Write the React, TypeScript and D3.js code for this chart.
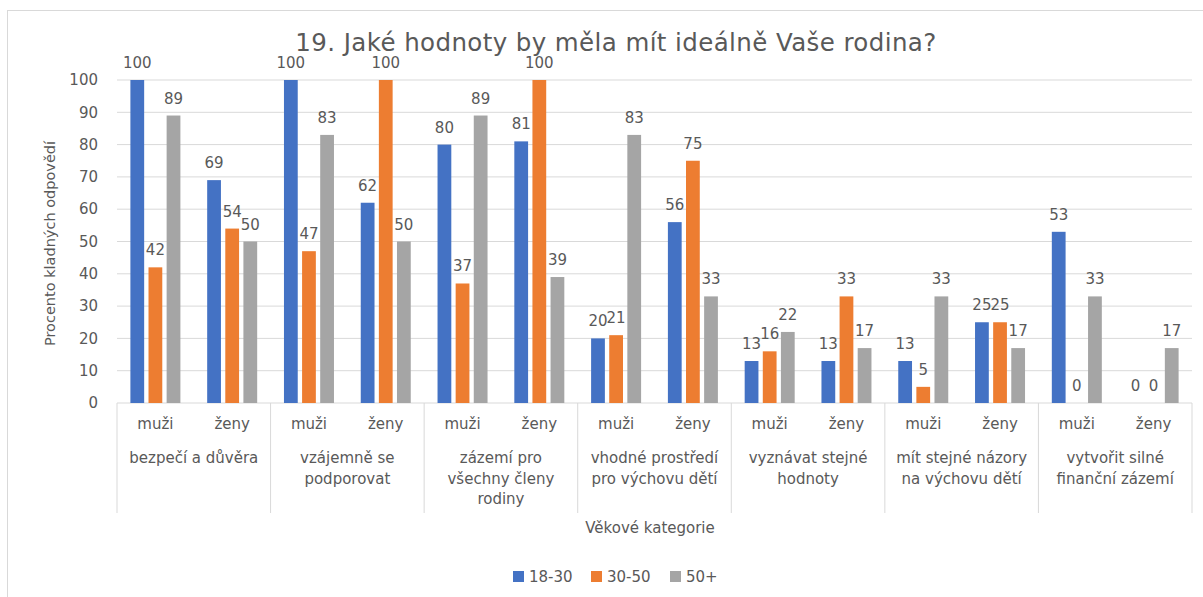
import React from 'react';
import * as d3 from 'd3';

const groups = [
  ['bezpečí a důvěra'],
  ['vzájemně se', 'podporovat'],
  ['zázemí pro', 'všechny členy', 'rodiny'],
  ['vhodné prostředí', 'pro výchovu dětí'],
  ['vyznávat stejné', 'hodnoty'],
  ['mít stejné názory', 'na výchovu dětí'],
  ['vytvořit silné', 'finanční zázemí'],
];
const genders = ['muži', 'ženy'];
const seriesNames = ['18-30', '30-50', '50+'];
const colors = ['#4472C4', '#ED7D31', '#A5A5A5'];

// values per group: [muži, ženy], each [18-30, 30-50, 50+]
const values = [
  [[100, 42, 89], [69, 54, 50]],
  [[100, 47, 83], [62, 100, 50]],
  [[80, 37, 89], [81, 100, 39]],
  [[20, 21, 83], [56, 75, 33]],
  [[13, 16, 22], [13, 33, 17]],
  [[13, 5, 33], [25, 25, 17]],
  [[53, 0, 33], [0, 0, 17]],
];
const yTicks = [0, 10, 20, 30, 40, 50, 60, 70, 80, 90, 100];

const W = 1203;
const H = 597;
const left = 117;
const right = 1192;
const top = 80;
const bottom = 403;
const font = '"DejaVu Sans", sans-serif';
const textColor = '#595959';

const App = () => {
  const x0 = d3.scaleBand<number>().domain(d3.range(groups.length)).range([left, right]);
  const x1 = d3.scaleBand<number>().domain([0, 1]).range([0, x0.bandwidth()]);
  const x2 = d3
    .scaleBand<number>()
    .domain([0, 1, 2])
    .range([x1.bandwidth() / 2 - 25, x1.bandwidth() / 2 + 25])
    .paddingInner(0.24);
  const y = d3.scaleLinear().domain([0, 100]).range([bottom, top]);

  return (
    <svg width={W} height={H} style={{ position: 'absolute', left: 0, top: 0, background: '#fff' }}>
      <rect x={7.5} y={10.5} width={1300} height={700} fill="#fff" stroke="#d9d9d9" />
      <text
        x={616}
        y={51}
        textAnchor="middle"
        fontFamily={font}
        fontSize={24.5}
        letterSpacing={0.4}
        fill={textColor}
      >
        19. Jaké hodnoty by měla mít ideálně Vaše rodina?
      </text>

      {yTicks.map((t) => (
        <g key={t}>
          <line x1={left} x2={right} y1={y(t)} y2={y(t)} stroke="#d9d9d9" strokeWidth={1} />
          <text x={98} y={y(t)} dy="0.35em" textAnchor="end" fontFamily={font} fontSize={15} fill={textColor}>
            {t}
          </text>
        </g>
      ))}

      {/* category axis dividers */}
      {d3.range(groups.length + 1).map((i) => {
        const xx = i < groups.length ? x0(i)! : right;
        return <line key={i} x1={xx} x2={xx} y1={bottom} y2={513} stroke="#d9d9d9" />;
      })}

      {values.map((g, gi) =>
        g.map((s, si) =>
          s.map((v, k) => {
            const bx = x0(gi)! + x1(si)! + x2(k)!;
            return (
              <g key={`${gi}-${si}-${k}`}>
                <rect x={bx} y={y(v)} width={x2.bandwidth()} height={bottom - y(v)} fill={colors[k]} />
                <text
                  x={bx + x2.bandwidth() / 2}
                  y={y(v) - 12}
                  textAnchor="middle"
                  fontFamily={font}
                  fontSize={15}
                  fill={textColor}
                >
                  {v}
                </text>
              </g>
            );
          })
        )
      )}

      {groups.map((lines, gi) => (
        <g key={gi}>
          {genders.map((gname, si) => (
            <text
              key={si}
              x={x0(gi)! + x1(si)! + x1.bandwidth() / 2}
              y={424}
              dy="0.35em"
              textAnchor="middle"
              fontFamily={font}
              fontSize={15}
              fill={textColor}
            >
              {gname}
            </text>
          ))}
          {lines.map((ln, li) => (
            <text
              key={li}
              x={x0(gi)! + x0.bandwidth() / 2}
              y={458 + li * 20.5}
              dy="0.35em"
              textAnchor="middle"
              fontFamily={font}
              fontSize={15}
              fill={textColor}
            >
              {ln}
            </text>
          ))}
        </g>
      ))}

      <text x={650} y={528} dy="0.35em" textAnchor="middle" fontFamily={font} fontSize={15} fill={textColor}>
        Věkové kategorie
      </text>
      <text
        transform={`translate(50, ${(top + bottom) / 2 + 2}) rotate(-90)`}
        textAnchor="middle"
        dy="0.35em"
        fontFamily={font}
        fontSize={14.5}
        fill={textColor}
      >
        Procento kladných odpovědí
      </text>

      {seriesNames.map((n, i) => {
        const lx = [513, 591, 670][i];
        return (
          <g key={n}>
            <rect x={lx} y={571} width={11} height={11} fill={colors[i]} />
            <text x={lx + 16} y={576.5} dy="0.35em" fontFamily={font} fontSize={15} fill={textColor}>
              {n}
            </text>
          </g>
        );
      })}
    </svg>
  );
};

export default App;
